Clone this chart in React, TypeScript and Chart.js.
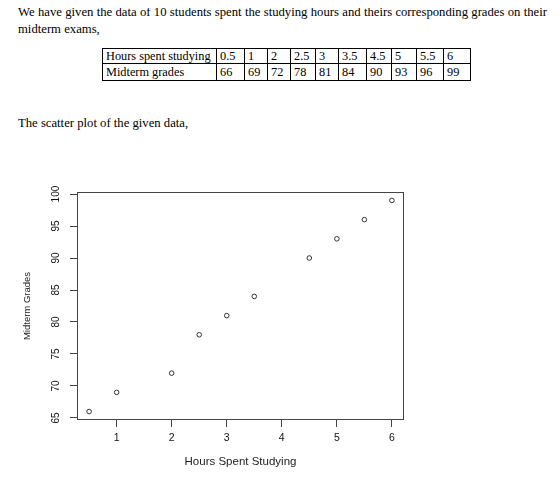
import React, { useEffect, useRef } from "react";
import { Chart, registerables } from "chart.js";

Chart.register(...registerables);

// ---- data ----
const tableHours = ["0.5", "1", "2", "2.5", "3", "3.5", "4.5", "5", "5.5", "6"];
const tableGrades = ["66", "69", "72", "78", "81", "84", "90", "93", "96", "99"];
const hours = [0.5, 1, 2, 2.5, 3, 3.5, 4.5, 5, 5.5, 6];
const grades = [66, 69, 72, 78, 81, 84, 90, 93, 96, 99];
const xTicks = [1, 2, 3, 4, 5, 6];
const yTicks = [65, 70, 75, 80, 85, 90, 95, 100];
const xRange = [0.28, 6.22];
const yRange = [64.68, 100.32];

const SANS = "'Liberation Sans', Arial, sans-serif";
const SERIF = "'Liberation Serif', 'Times New Roman', serif";

const boxPlugin = {
  id: "rbox",
  afterDraw(chart: any) {
    const { ctx, chartArea: a } = chart;
    ctx.save();
    ctx.strokeStyle = "#444";
    ctx.lineWidth = 1;
    ctx.strokeRect(
      Math.round(a.left) + 0.5,
      Math.round(a.top) + 0.5,
      Math.round(a.right - a.left) - 1,
      Math.round(a.bottom - a.top) - 1
    );
    ctx.restore();
  },
};

function ScatterPlot() {
  const ref = useRef<HTMLCanvasElement | null>(null);
  useEffect(() => {
    if (!ref.current) return;
    const chart = new Chart(ref.current, {
      type: "scatter",
      data: {
        datasets: [
          {
            data: hours.map((h, i) => ({ x: h, y: grades[i] })),
            pointStyle: "circle",
            pointRadius: 2.3,
            pointBorderWidth: 1,
            pointBorderColor: "#333",
            pointBackgroundColor: "rgba(0,0,0,0)",
            showLine: false,
          },
        ],
      },
      options: {
        animation: false,
        responsive: false,
        devicePixelRatio: 1,
        layout: { padding: { left: 0, top: 22, right: 16, bottom: 15 } },
        plugins: { legend: { display: false }, tooltip: { enabled: false } },
        events: [],
        scales: {
          x: {
            type: "linear",
            position: "bottom",
            min: xRange[0],
            max: xRange[1],
            afterBuildTicks: (s: any) => {
              s.ticks = xTicks.map((v) => ({ value: v }));
            },
            afterFit: (s: any) => {
              s.height = 50;
            },
            border: { display: false },
            grid: { drawOnChartArea: false, drawTicks: true, tickLength: 7, tickColor: "#444", lineWidth: 1 },
            ticks: {
              autoSkip: false,
              maxRotation: 0,
              padding: 5,
              color: "#111",
              font: { family: SANS, size: 10.5 },
              callback: (v: any) => String(v),
            },
            title: {
              display: true,
              text: "Hours Spent Studying",
              color: "#222",
              font: { family: SANS, size: 11.5 },
              padding: { top: 0, bottom: 1 },
            },
          },
          y: {
            type: "linear",
            position: "left",
            min: yRange[0],
            max: yRange[1],
            afterBuildTicks: (s: any) => {
              s.ticks = yTicks.map((v) => ({ value: v }));
            },
            afterFit: (s: any) => {
              s.width = 77;
            },
            border: { display: false },
            grid: { drawOnChartArea: false, drawTicks: true, tickLength: 7, tickColor: "#444", lineWidth: 1 },
            ticks: {
              autoSkip: false,
              minRotation: 90,
              maxRotation: 90,
              crossAlign: "center",
              padding: 5,
              color: "#111",
              font: { family: SANS, size: 10 },
              callback: (v: any) => String(v),
            },
            title: {
              display: true,
              text: "Midterm Grades",
              color: "#222",
              font: { family: SANS, size: 9.5 },
              padding: { top: 22, bottom: 0 },
            },
          },
        },
      } as any,
      plugins: [boxPlugin],
    });
    return () => chart.destroy();
  }, []);
  return (
    <canvas
      ref={ref}
      width={420}
      height={315}
      style={{ position: "absolute", left: -8, top: 162, width: 420, height: 315 }}
    />
  );
}

export default function App() {
  const colWidths = [114, 28, 23, 23, 25, 23, 28, 25, 25, 27, 27];
  const cell: React.CSSProperties = {
    border: "1px solid #000",
    padding: "0 3px",
    verticalAlign: "top",
    whiteSpace: "nowrap",
    overflow: "hidden",
    fontFamily: SERIF,
  };
  return (
    <div style={{ position: "relative", width: 544, height: 469, fontFamily: SERIF, color: "#000" }}>
      <div
        style={{
          position: "absolute",
          left: 10,
          top: -4,
          width: 529,
          fontSize: 12.7,
          lineHeight: "17px",
          textAlign: "justify",
        }}
      >
        <div style={{ textAlignLast: "justify", whiteSpace: "nowrap" } as any}>
          We have given the data of 10 students spent the studying hours and theirs corresponding grades on their
        </div>
        <div>midterm exams,</div>
      </div>
      <table
        style={{
          position: "absolute",
          left: 94,
          top: 40,
          borderCollapse: "collapse",
          tableLayout: "fixed",
          fontSize: 12.3,
          lineHeight: "14px",
          fontFamily: SERIF,
        }}
      >
        <colgroup>
          {colWidths.map((w, i) => (
            <col key={i} style={{ width: w }} />
          ))}
        </colgroup>
        <tbody>
          <tr style={{ height: 15 }}>
            <td style={cell}>Hours spent studying</td>
            {tableHours.map((h, i) => (
              <td key={i} style={cell}>
                {h}
              </td>
            ))}
          </tr>
          <tr style={{ height: 17 }}>
            <td style={{ ...cell, paddingTop: 1 }}>Midterm grades</td>
            {tableGrades.map((g, i) => (
              <td key={i} style={{ ...cell, paddingTop: 1 }}>
                {g}
              </td>
            ))}
          </tr>
        </tbody>
      </table>
      <div
        style={{
          position: "absolute",
          left: 10,
          top: 107,
          fontSize: 12.7,
          lineHeight: "17px",
          whiteSpace: "nowrap",
        }}
      >
        The scatter plot of the given data,
      </div>
      <ScatterPlot />
    </div>
  );
}
